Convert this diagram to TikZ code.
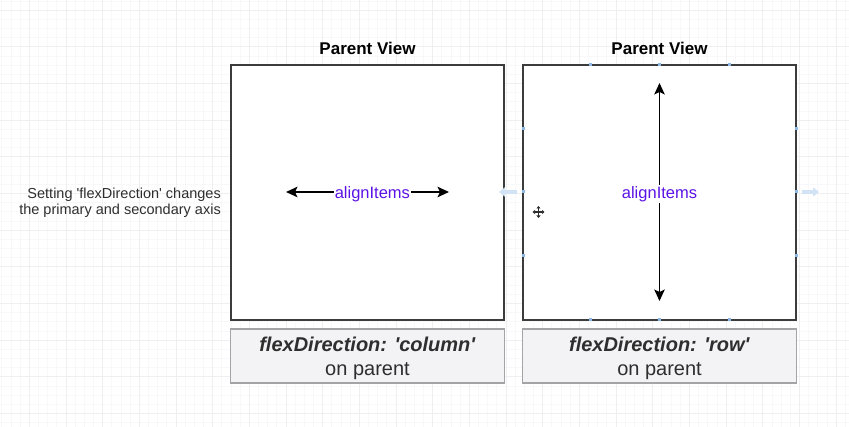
\documentclass[tikz,border=0pt]{standalone}
\usepackage{fontspec}
\setmainfont{Liberation Sans}
\usetikzlibrary{arrows.meta}
\definecolor{gridminor}{HTML}{F8F7F9}
\definecolor{gridmajor}{HTML}{EFEEF1}
\definecolor{boxline}{HTML}{3C3C3C}
\definecolor{lblfill}{HTML}{F3F2F4}
\definecolor{lblline}{HTML}{A4A4A6}
\definecolor{txt}{HTML}{2E2E2E}
\definecolor{purp}{HTML}{5B12E6}
\definecolor{handle}{HTML}{8DB8E8}
\definecolor{ghost}{HTML}{D2E3F6}
\begin{document}
\begin{tikzpicture}[x=1pt,y=-1pt,
  parentbox/.style={draw=boxline,line width=1.1pt,fill=white,minimum width=273pt,minimum height=255pt,inner sep=0pt,outer sep=0pt},
  lblbox/.style={draw=lblline,line width=1.1pt,fill=lblfill,minimum width=274pt,minimum height=54pt,inner sep=0pt},
  lbltext/.style={align=center,text=txt,font=\fontsize{20}{24}\selectfont,inner sep=0pt},
  titletext/.style={font=\bfseries\fontsize{17}{20}\selectfont,text=black},
  dblarrow/.style={line width=1.9pt,{Stealth[length=11.5pt,width=10.5pt,inset=2.5pt]}-{Stealth[length=11.5pt,width=10.5pt,inset=2.5pt]}},
  axislbl/.style={fill=white,inner sep=1pt,yshift=-2pt,text=purp,font=\fontsize{16.5}{18}\selectfont},
  sidetext/.style={align=right,text=txt,font=\fontsize{14.5}{16.5}\selectfont,inner sep=0pt},
  handlebox/.style={fill=handle,minimum size=3pt,inner sep=0pt,outer sep=0pt},
  ghostarrow/.style={draw=ghost,line width=3.5pt,-{Triangle[length=6pt,width=9pt]}},
  cursorarrow/.style={draw=txt,line width=1.3pt,{Triangle[length=2.5pt,width=4pt]}-{Triangle[length=2.5pt,width=4pt]}}
]
\useasboundingbox (0,0) rectangle (849,427);
\fill[white] (0,0) rectangle (849,427);
% grid
\foreach \i in {0,...,94} {
  \draw[gridminor,line width=0.6pt] ({-7.4+\i*9.167},0) -- ({-7.4+\i*9.167},427);
}
\foreach \j in {0,...,47} {
  \draw[gridminor,line width=0.6pt] (0,{10-9.167+\j*9.167}) -- (849,{10-9.167+\j*9.167});
}
\foreach \i in {0,...,24} {
  \draw[gridmajor,line width=0.8pt] ({-7.4+\i*36.67},0) -- ({-7.4+\i*36.67},427);
}
\foreach \j in {0,...,12} {
  \draw[gridmajor,line width=0.8pt] (0,{10+\j*36.67}) -- (849,{10+\j*36.67});
}

% side text
\node[sidetext,anchor=east] (side) at (221,203) {Setting \textquotesingle flexDirection\textquotesingle{} changes\\the primary and secondary axis};

% titles
\node[titletext] (t1) at (367.5,48) {Parent View};
\node[titletext] (t2) at (659.5,48) {Parent View};

% parent boxes
\node[parentbox] (lbox) at (367.5,192.5) {};
\node[parentbox] (rbox) at (659.5,192.5) {};

% label boxes
\node[lblbox] (l1) at (367.5,356) {};
\node[lblbox] (l2) at (659.5,356) {};
\node[lbltext] (l1t) at (367.5,358) {\textbf{\textit{flexDirection: \textquotesingle column\textquotesingle}}\\on parent};
\node[lbltext] (l2t) at (659.5,358) {\textbf{\textit{flexDirection: \textquotesingle row\textquotesingle}}\\on parent};

% left arrow
\coordinate (la) at (286,192);
\coordinate (lb) at (449,192);
\draw[dblarrow] (la) -- node[axislbl,pos=0.53] (lt) {alignItems} (lb);

% right arrow
\coordinate (ra) at (659.5,83);
\coordinate (rb) at (659.5,301);
\draw[dblarrow] (ra) -- node[axislbl] (rt) {alignItems} (rb);

% selection handles
\foreach \x [count=\k] in {590,659.5,729} {
  \node[handlebox] (ht\k) at (\x,65) {};
  \node[handlebox] (hb\k) at (\x,320) {};
}
\foreach \y [count=\k] in {129,192,256} {
  \node[handlebox] (hl\k) at (523,\y) {};
  \node[handlebox] (hr\k) at (796,\y) {};
}
% ghost arrows
\coordinate (gl1) at (517,192);
\coordinate (gl2) at (499,192);
\draw[ghostarrow] (gl1) -- (gl2);
\coordinate (gr1) at (802,192);
\coordinate (gr2) at (819,192);
\draw[ghostarrow] (gr1) -- (gr2);

% move cursor
\coordinate (cw) at (532.5,212);
\coordinate (ce) at (544.5,212);
\coordinate (cn) at (538.5,206);
\coordinate (cs) at (538.5,218);
\draw[cursorarrow] (cw) -- (ce);
\draw[cursorarrow] (cn) -- (cs);
\end{tikzpicture}
\end{document}
